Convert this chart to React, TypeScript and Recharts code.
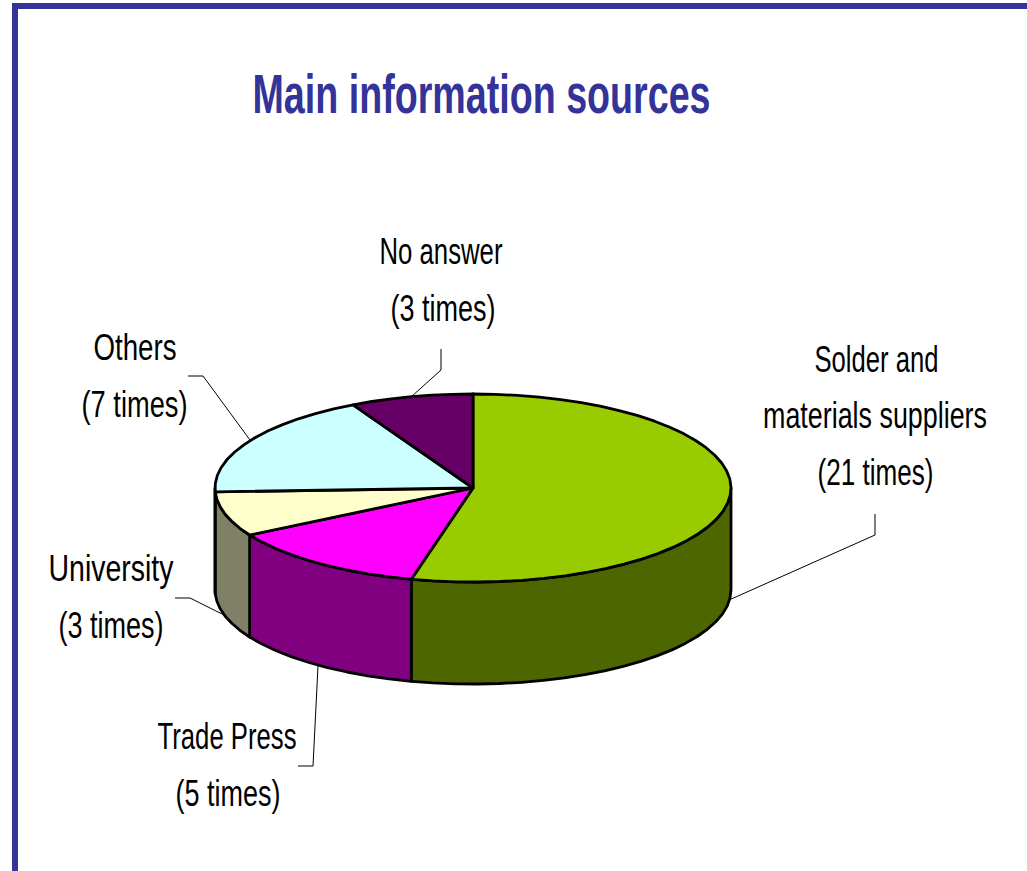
import React from "react";
import { PieChart, Pie, Cell } from "recharts";

const categories = ["Solder and materials suppliers", "Trade Press", "University", "Others", "No answer"];
const counts = [21, 5, 3, 7, 3];
const topColors = ["#99CC00", "#FF00FF", "#FFFFCC", "#CCFFFF", "#660066"];
const sideColors = ["#4D6600", "#800080", "#808066", "#668080", "#330033"];
const labelLines = [
  ["Solder and", "materials suppliers", "(21 times)"],
  ["Trade Press", "(5 times)"],
  ["University", "(3 times)"],
  ["Others", "(7 times)"],
  ["No answer", "(3 times)"],
];

const W = 1027, H = 871;
const CX = 473, CY = 488, RX = 258, RY = 94, DEPTH = 102;
const FRAME = "#333399";
const FONT = "'Liberation Sans Narrow', 'Liberation Sans', sans-serif";

// [x-centre, width, baseline] for every text line, then leader polyline
const labelLayout = [
  { lines: [[876.5, 124, 372], [875, 224, 428], [875.5, 116, 485]], leader: "875,514 875,535 729,600" },
  { lines: [[227, 139, 749], [228, 105, 806]], leader: "298,766 313,766 318,666" },
  { lines: [[111, 125, 581], [111, 105, 638]], leader: "175,598 190,598 224,615" },
  { lines: [[135, 83, 360], [134.5, 106, 417]], leader: "188,376 203,376 250,440" },
  { lines: [[441, 123, 264], [443, 105, 321]], leader: "441,349 441,370 411,397" },
];

const pt = (theta: number, dy = 0) => {
  const r = (theta * Math.PI) / 180;
  return [CX + RX * Math.sin(r), CY - RY * Math.cos(r) + dy];
};

const arc = (a: number, b: number, dy = 0) => {
  const n = Math.max(1, Math.round(Math.abs(b - a) / 5));
  const out: string[] = [];
  for (let i = 0; i <= n; i++) {
    const [x, y] = pt(a + ((b - a) * i) / n, dy);
    out.push(`${x.toFixed(1)} ${y.toFixed(1)}`);
  }
  return out;
};

function Slab(props: any) {
  const { startAngle, endAngle, index } = props;
  const t1 = 90 - startAngle;
  const t2 = 90 - endAngle;
  const top = `M${CX} ${CY} L${arc(t1, t2).join(" L")} Z`;
  const s1 = Math.max(t1, 90);
  const s2 = Math.min(t2, 270);
  const side =
    s2 > s1
      ? `M${arc(s1, s2).join(" L")} L${arc(s2, s1, DEPTH).join(" L")} Z`
      : null;
  return (
    <g>
      {side && <path d={side} fill={sideColors[index]} stroke="#000" strokeWidth={2.8} strokeLinejoin="round" />}
      <path d={top} fill={topColors[index]} stroke="#000" strokeWidth={2.8} strokeLinejoin="round" />
    </g>
  );
}

function SliceLabel(props: any) {
  const i = props.index;
  const l = labelLayout[i];
  return (
    <g>
      <polyline points={l.leader} fill="none" stroke="#000" strokeWidth={1} />
      {labelLines[i].map((t, k) => (
        <text
          key={k}
          x={l.lines[k][0]}
          y={l.lines[k][2]}
          textAnchor="middle"
          textLength={l.lines[k][1]}
          lengthAdjust="spacingAndGlyphs"
          fontFamily={FONT}
          fontSize={36}
          fill="#000"
        >
          {t}
        </text>
      ))}
    </g>
  );
}

const data = categories.map((name, i) => ({ name, value: counts[i] }));

export default function App() {
  return (
    <div style={{ position: "absolute", left: 0, top: 0, width: W, height: H, background: "#fff", overflow: "hidden" }}>
      <PieChart width={W} height={H} margin={{ top: 0, right: 0, bottom: 0, left: 0 }}>
        <rect x={12} y={3} width={W} height={6} fill={FRAME} />
        <rect x={12} y={3} width={6} height={H} fill={FRAME} />
        <text
          x={481.5}
          y={113}
          textAnchor="middle"
          textLength={458}
          lengthAdjust="spacingAndGlyphs"
          fontFamily={FONT}
          fontWeight="bold"
          fontSize={56}
          fill={FRAME}
        >
          Main information sources
        </text>
        <Pie
          data={data}
          dataKey="value"
          nameKey="name"
          cx={CX}
          cy={CY}
          innerRadius={0}
          outerRadius={RX}
          startAngle={90}
          endAngle={-270}
          paddingAngle={0}
          isAnimationActive={false}
          shape={Slab}
          label={SliceLabel}
          labelLine={false}
        >
          {data.map((d, i) => (
            <Cell key={d.name} fill={topColors[i]} />
          ))}
        </Pie>
      </PieChart>
    </div>
  );
}
